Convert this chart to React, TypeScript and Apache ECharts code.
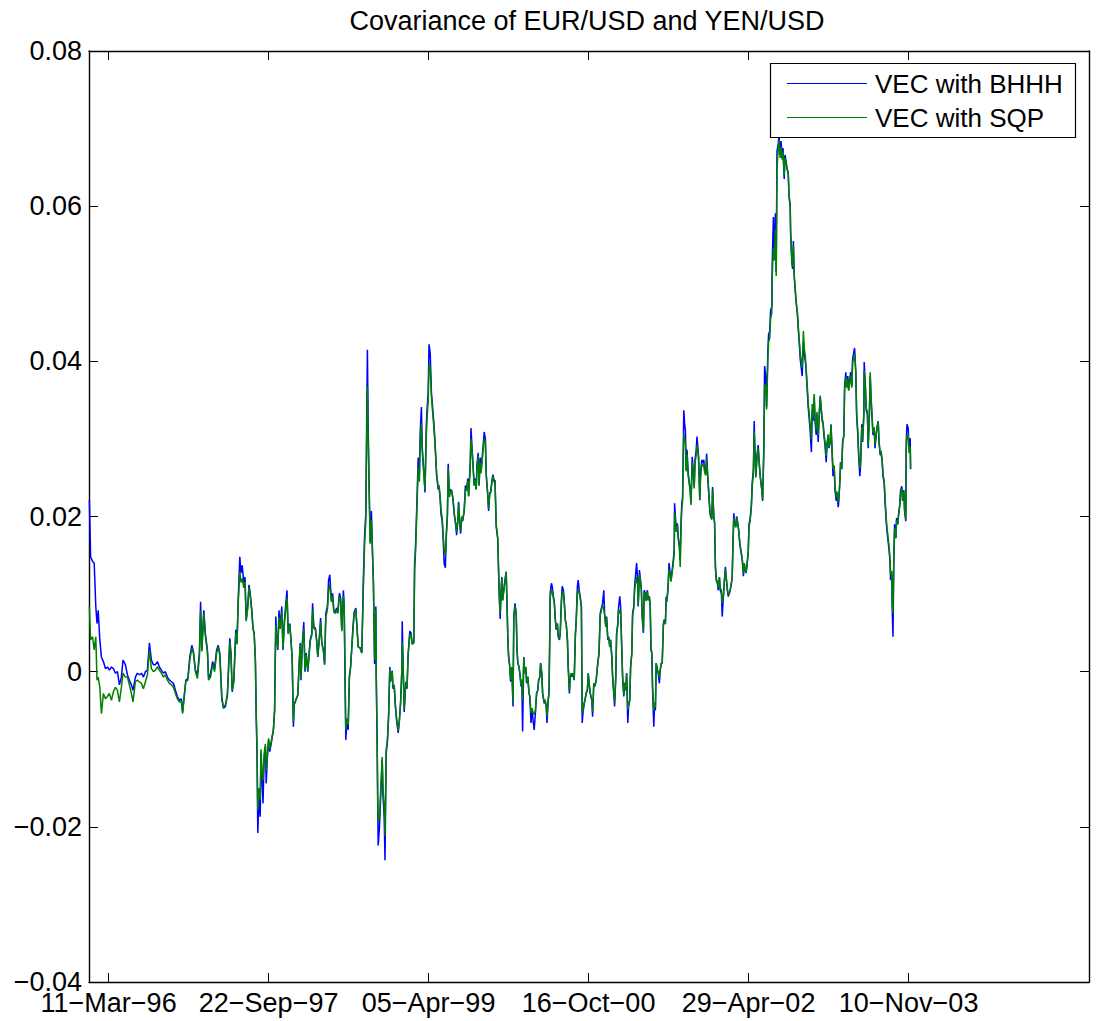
import React, { useEffect, useRef } from "react";
import * as echarts from "echarts";

// Observation index (business days since the start of the sample)
const obs = [
  1, 4, 9, 13, 17, 20, 23, 27, 31, 36, 41, 46, 51, 56, 61, 66, 71, 76, 81, 85, 91, 96, 101, 106, 110, 116, 121, 126, 131, 136, 141, 146, 151, 156, 161, 166, 171, 176, 181, 186, 191, 196, 201, 206, 211, 216, 221, 226, 231, 234, 237, 242, 247, 252, 257, 261, 266, 271, 276, 279, 282, 287, 291, 296, 299, 304, 309, 314, 319, 323, 327, 332, 336, 341, 346,
  352, 355, 358, 362, 367, 370, 373, 377, 380, 383, 387, 390, 393, 397, 400, 403, 407, 410, 413, 416, 418, 420, 422, 425, 428, 430, 432, 435, 438, 441, 443, 446, 449, 452, 457, 461, 464, 467, 469, 472, 475, 478, 482, 485, 488, 492, 495, 498, 502, 505, 508, 511, 513, 517, 522, 525, 528, 530, 533, 537, 540, 543, 547, 550, 553, 557, 559, 562, 566, 569, 572, 576, 579, 582, 586, 589, 592, 596, 599, 602, 606, 609, 612, 616, 619, 622, 626, 629, 632, 636, 638, 640, 642, 645, 648, 651, 654, 657, 660, 663, 667, 670, 673,
  678, 682, 686, 689, 692, 694, 696, 698, 701, 703, 706, 708, 711, 714, 717, 718, 720, 722, 723, 726, 729, 733, 735, 738, 740, 743, 746, 749, 752, 754, 758, 760, 763, 766, 769, 773, 776, 779, 782, 783, 786, 788, 792, 795, 798, 802, 805, 808, 812, 814, 816, 818, 821, 823, 826, 828, 831, 833, 837, 840, 843, 845, 848, 850, 853, 856, 859, 863, 866, 869, 873, 875, 878, 880, 883, 885, 888, 891, 893, 896, 898, 901, 903, 907, 910, 913, 917, 919, 922, 924, 927, 929, 932, 934, 938, 941, 944, 947, 949, 953, 955, 958, 960, 963, 965, 968, 970, 973, 975, 978, 980, 983, 986, 988, 991, 993, 997, 999, 1002, 1004, 1008, 1010, 1013,
  1015, 1018, 1022, 1024, 1026, 1028, 1030, 1032, 1034, 1037, 1040, 1043, 1045, 1047, 1049, 1052, 1054, 1057, 1060, 1062, 1065, 1068, 1070, 1072, 1075, 1078, 1080, 1082, 1084, 1087, 1089, 1092, 1094, 1097, 1100, 1102, 1105, 1108, 1110, 1113, 1116, 1119, 1122, 1124, 1127, 1129, 1132, 1134, 1138, 1140, 1143, 1145, 1148, 1150, 1152, 1153, 1156, 1158, 1161, 1163, 1166, 1168, 1171, 1173, 1176, 1178, 1181, 1183, 1186, 1188, 1191, 1193, 1196, 1198, 1201, 1203, 1206, 1208, 1211, 1213, 1216, 1218, 1221, 1223, 1226, 1228, 1231, 1233, 1235, 1238, 1240, 1243, 1246, 1248, 1251, 1253, 1257, 1259, 1262, 1265, 1268, 1272, 1275, 1278, 1282, 1284, 1287, 1289, 1292, 1294, 1297, 1299, 1302, 1304, 1307, 1309, 1312, 1314, 1317, 1319, 1322, 1324, 1327, 1329, 1332, 1334, 1337, 1339, 1342, 1344, 1347, 1349, 1352, 1354, 1357, 1359, 1362, 1364,
  1369, 1372, 1373, 1376, 1378, 1381, 1383, 1386, 1388, 1391, 1393, 1396, 1398, 1401, 1403, 1405, 1407, 1409, 1412, 1414, 1416, 1418, 1421, 1423, 1426, 1428, 1431, 1433, 1436, 1438, 1441, 1443, 1445, 1448, 1450, 1453, 1455, 1458, 1460, 1463, 1464, 1466, 1468, 1471, 1473, 1476, 1478, 1480, 1482, 1484, 1487, 1489, 1491, 1493, 1495, 1498, 1500, 1503, 1505, 1508, 1510, 1513, 1515, 1518, 1520, 1522, 1524, 1527, 1529, 1532, 1534, 1537, 1539, 1542, 1544, 1547, 1549, 1552, 1554, 1557, 1559, 1562, 1564, 1566, 1568, 1571, 1573, 1576, 1578, 1581, 1583, 1586, 1588, 1591, 1593, 1596, 1598, 1601, 1603, 1606, 1608, 1610, 1612, 1614, 1617, 1619, 1622, 1624, 1627,
  1630, 1633, 1636, 1638, 1642, 1644, 1648, 1650, 1653, 1656, 1658, 1661, 1663, 1664, 1667, 1670, 1673, 1675, 1678, 1682, 1684, 1687, 1689, 1692, 1694, 1697, 1699, 1702, 1704, 1707, 1708, 1711, 1713, 1716, 1718, 1720, 1723, 1725, 1728, 1730, 1733, 1735, 1738, 1740, 1743, 1745, 1748, 1750, 1753, 1754, 1757, 1759, 1761, 1763, 1766, 1768, 1771, 1773, 1776, 1778, 1781, 1783, 1786, 1788, 1791, 1793, 1796, 1798, 1801, 1803, 1806, 1808, 1810, 1813, 1815, 1818, 1820, 1823, 1825, 1828, 1830, 1833, 1835, 1838, 1840, 1843, 1845, 1848, 1850, 1853, 1855, 1858, 1860, 1863, 1865, 1868, 1870, 1873, 1874, 1877, 1879, 1882, 1884, 1887, 1889, 1892, 1894, 1897, 1899, 1902, 1904, 1907, 1909, 1912, 1914, 1917, 1919, 1922, 1924, 1927, 1929, 1932, 1934, 1937, 1938, 1941, 1943, 1946, 1948, 1951, 1953, 1955, 1958, 1960, 1963, 1965, 1968, 1970, 1973, 1975, 1978, 1980, 1983, 1985, 1988, 1990, 1993, 1995, 1998, 2000, 2002, 2004, 2007, 2008, 2010, 2012, 2014, 2017, 2019, 2022, 2024, 2027, 2029, 2032, 2034, 2037, 2039, 2042, 2043, 2045, 2048, 2050, 2053, 2054,
];

// Conditional covariance estimated by BHHH
const bhhh = [
  0.0221, 0.0148, 0.0142, 0.0140, 0.0084, 0.0062, 0.0079, 0.0041, 0.0019, 0.0013, 0.0004, 0.0006, 0.0002, 0.0006, 0.0004, -0.0002, 0.0000, -0.0017, -0.0007, 0.0015, 0.0009, -0.0004, -0.0011, -0.0017, -0.0024, -0.0007, -0.0002, -0.0004, -0.0002, -0.0007, 0.0000, 0.0002, 0.0037, 0.0015, 0.0009, 0.0009, 0.0013, 0.0006, 0.0002, -0.0002, 0.0000, -0.0007, -0.0011, -0.0013, -0.0015, -0.0024, -0.0032, -0.0037, -0.0035, -0.0052, -0.0037, -0.0011, -0.0009, 0.0019, 0.0034, 0.0026, 0.0002, -0.0004, 0.0024, 0.0090, 0.0028, 0.0079, 0.0049, 0.0028, -0.0009, -0.0002, 0.0013, 0.0004, 0.0028, 0.0034, 0.0024, -0.0032, -0.0047, -0.0045, -0.0028,
  0.0043, 0.0024, -0.0026, -0.0011, 0.0054, 0.0037, 0.0092, 0.0148, 0.0127, 0.0137, 0.0114, 0.0122, 0.0067, 0.0086, 0.0112, 0.0101, 0.0079, 0.0056, 0.0049, 0.0013, -0.0058, -0.0105, -0.0208, -0.0161, -0.0187, -0.0105, -0.0131, -0.0170, -0.0110, -0.0097, -0.0144, -0.0110, -0.0088, -0.0103, -0.0088, -0.0075, -0.0050, 0.0071, 0.0045, 0.0028, 0.0079, 0.0058, 0.0084, 0.0028, 0.0062, 0.0088, 0.0105, 0.0049, 0.0062, 0.0041, 0.0015, -0.0071, -0.0043, -0.0037, -0.0030, 0.0006, 0.0037, -0.0011, 0.0034, 0.0064, 0.0000, 0.0024, 0.0000, 0.0021, 0.0041, 0.0049, 0.0088, 0.0058, 0.0056, 0.0041, 0.0019, 0.0045, 0.0069, 0.0037, 0.0028, 0.0009, 0.0075, 0.0084, 0.0118, 0.0125, 0.0092, 0.0101, 0.0079, 0.0077, 0.0082, 0.0077, 0.0101, 0.0095, 0.0054, 0.0105, 0.0084, -0.0002, -0.0088, -0.0062, -0.0075, -0.0007, 0.0006, 0.0032, 0.0058, 0.0077, 0.0082, 0.0058, 0.0032,
  0.0031, 0.0024, 0.0121, 0.0176, 0.0203, 0.0313, 0.0415, 0.0313, 0.0222, 0.0167, 0.0207, 0.0167, 0.0116, 0.0010, 0.0084, -0.0004, -0.0077, -0.0183, -0.0224, -0.0202, -0.0164, -0.0114, -0.0160, -0.0187, -0.0243, -0.0105, -0.0091, -0.0058, 0.0006, -0.0013, 0.0001, -0.0022, -0.0018, -0.0045, -0.0063, -0.0079, -0.0063, -0.0040, 0.0001, 0.0065, -0.0008, -0.0052, -0.0013, -0.0022, 0.0024, 0.0052, 0.0050, 0.0036, 0.0038, 0.0139, 0.0157, 0.0189, 0.0240, 0.0276, 0.0254, 0.0309, 0.0341, 0.0290, 0.0258, 0.0231, 0.0314, 0.0337, 0.0360, 0.0422, 0.0411, 0.0360, 0.0341, 0.0314, 0.0286, 0.0254, 0.0235, 0.0240, 0.0222, 0.0203, 0.0194, 0.0176, 0.0139, 0.0134, 0.0176, 0.0203, 0.0268, 0.0226, 0.0235, 0.0233, 0.0222, 0.0203, 0.0188, 0.0176, 0.0194, 0.0219, 0.0190, 0.0178, 0.0199, 0.0194, 0.0207, 0.0240, 0.0235, 0.0249, 0.0226, 0.0268, 0.0314, 0.0285, 0.0268, 0.0240, 0.0249, 0.0235, 0.0268, 0.0282, 0.0240, 0.0276, 0.0258, 0.0276, 0.0295, 0.0309, 0.0300, 0.0254, 0.0226, 0.0207, 0.0231, 0.0231, 0.0249, 0.0254, 0.0245,
  0.0247, 0.0187, 0.0170, 0.0127, 0.0092, 0.0068, 0.0101, 0.0122, 0.0092, 0.0105, 0.0118, 0.0129, 0.0088, 0.0045, 0.0019, 0.0006, -0.0013, 0.0006, -0.0045, 0.0071, 0.0088, 0.0075, 0.0028, 0.0011, 0.0006, -0.0007, -0.0019, -0.0011, -0.0077, 0.0019, -0.0002, 0.0006, -0.0015, -0.0007, -0.0028, -0.0032, -0.0066, -0.0049, -0.0062, -0.0075, -0.0053, -0.0028, -0.0024, -0.0011, -0.0007, 0.0011, -0.0002, -0.0028, -0.0041, -0.0037, -0.0045, -0.0066, -0.0037, -0.0028, 0.0049, 0.0101, 0.0114, 0.0110, 0.0097, 0.0092, 0.0066, 0.0054, 0.0062, 0.0045, 0.0041, 0.0049, 0.0092, 0.0110, 0.0105, 0.0092, 0.0066, 0.0062, 0.0041, 0.0006, -0.0028, -0.0007, -0.0002, -0.0007, -0.0002, -0.0011, 0.0049, 0.0066, 0.0110, 0.0118, 0.0103, 0.0097, 0.0084, -0.0066, -0.0053, -0.0041, -0.0037, -0.0028, -0.0024, -0.0002, -0.0019, -0.0028, -0.0037, -0.0058, -0.0015, -0.0019, -0.0011, 0.0011, 0.0024, 0.0075, 0.0084, 0.0088, 0.0105, 0.0075, 0.0058, 0.0071, 0.0041, 0.0045, 0.0032, 0.0041, 0.0019, -0.0007, -0.0028, -0.0045, -0.0007, 0.0049, 0.0062, 0.0084, 0.0097, 0.0084, 0.0028, -0.0007, -0.0032, -0.0015, -0.0024, -0.0002, -0.0066, -0.0045, -0.0037, 0.0006, 0.0024, 0.0075, 0.0084, 0.0110,
  0.0140, 0.0114, 0.0084, 0.0131, 0.0122, 0.0105, 0.0071, 0.0050, 0.0105, 0.0101, 0.0092, 0.0105, 0.0092, 0.0097, 0.0084, 0.0028, 0.0024, -0.0024, -0.0071, -0.0041, -0.0050, 0.0011, 0.0002, -0.0002, -0.0015, 0.0002, 0.0011, 0.0011, 0.0062, 0.0067, 0.0062, 0.0097, 0.0092, 0.0114, 0.0140, 0.0127, 0.0118, 0.0131, 0.0140, 0.0157, 0.0217, 0.0200, 0.0183, 0.0191, 0.0174, 0.0162, 0.0144, 0.0191, 0.0217, 0.0225, 0.0337, 0.0320, 0.0311, 0.0260, 0.0286, 0.0256, 0.0247, 0.0234, 0.0217, 0.0277, 0.0264, 0.0238, 0.0273, 0.0286, 0.0303, 0.0290, 0.0277, 0.0221, 0.0256, 0.0273, 0.0269, 0.0273, 0.0260, 0.0256, 0.0281, 0.0251, 0.0234, 0.0208, 0.0200, 0.0196, 0.0238, 0.0200, 0.0191, 0.0135, 0.0118, 0.0114, 0.0105, 0.0122, 0.0105, 0.0101, 0.0071, 0.0097, 0.0114, 0.0135, 0.0122, 0.0105, 0.0097, 0.0101, 0.0105, 0.0114, 0.0122, 0.0169, 0.0204, 0.0191, 0.0187, 0.0200, 0.0191, 0.0183, 0.0165,
  0.0154, 0.0145, 0.0123, 0.0140, 0.0127, 0.0132, 0.0154, 0.0190, 0.0198, 0.0216, 0.0243, 0.0261, 0.0323, 0.0301, 0.0252, 0.0279, 0.0292, 0.0274, 0.0252, 0.0234, 0.0220, 0.0288, 0.0394, 0.0380, 0.0341, 0.0412, 0.0435, 0.0439, 0.0466, 0.0470, 0.0524, 0.0586, 0.0537, 0.0591, 0.0515, 0.0671, 0.0680, 0.0691, 0.0666, 0.0684, 0.0662, 0.0675, 0.0635, 0.0666, 0.0657, 0.0648, 0.0644, 0.0613, 0.0599, 0.0564, 0.0528, 0.0519, 0.0555, 0.0510, 0.0488, 0.0475, 0.0461, 0.0443, 0.0421, 0.0403, 0.0390, 0.0381, 0.0425, 0.0412, 0.0399, 0.0386, 0.0359, 0.0341, 0.0323, 0.0309, 0.0283, 0.0337, 0.0323, 0.0354, 0.0323, 0.0305, 0.0332, 0.0296, 0.0323, 0.0354, 0.0341, 0.0323, 0.0319, 0.0301, 0.0292, 0.0270, 0.0292, 0.0305, 0.0288, 0.0296, 0.0319, 0.0279, 0.0252, 0.0261, 0.0234, 0.0220, 0.0229, 0.0212, 0.0216, 0.0243, 0.0270, 0.0261, 0.0296, 0.0305, 0.0368, 0.0386, 0.0368, 0.0381, 0.0363, 0.0377, 0.0386, 0.0368, 0.0403, 0.0412, 0.0417, 0.0386, 0.0332, 0.0305, 0.0279, 0.0252, 0.0266, 0.0319, 0.0296, 0.0332, 0.0399, 0.0368, 0.0337, 0.0332, 0.0288, 0.0332, 0.0381, 0.0354, 0.0323, 0.0305, 0.0314, 0.0288, 0.0305, 0.0314, 0.0323, 0.0296, 0.0279, 0.0283, 0.0270, 0.0252, 0.0243, 0.0220, 0.0194, 0.0181, 0.0167, 0.0158, 0.0145, 0.0118, 0.0127, 0.0082, 0.0045, 0.0145, 0.0190, 0.0172, 0.0198, 0.0190, 0.0203, 0.0216, 0.0234, 0.0239, 0.0220, 0.0234, 0.0207, 0.0194, 0.0296, 0.0319, 0.0314, 0.0288, 0.0301, 0.0261,
];

// Conditional covariance estimated by SQP
const sqp = [
  0.0084, 0.0041, 0.0045, 0.0028, 0.0045, -0.0011, -0.0007, -0.0020, -0.0054, -0.0028, -0.0035, -0.0032, -0.0028, -0.0037, -0.0026, -0.0020, -0.0024, -0.0039, -0.0020, -0.0002, -0.0007, -0.0007, -0.0017, -0.0028, -0.0039, -0.0013, -0.0011, -0.0013, -0.0015, -0.0022, -0.0013, -0.0004, 0.0028, 0.0004, 0.0000, 0.0002, 0.0006, 0.0002, -0.0002, -0.0007, -0.0004, -0.0011, -0.0015, -0.0017, -0.0020, -0.0028, -0.0035, -0.0039, -0.0039, -0.0054, -0.0037, -0.0013, -0.0011, 0.0015, 0.0030, 0.0024, 0.0000, -0.0009, 0.0019, 0.0079, 0.0026, 0.0075, 0.0045, 0.0026, -0.0011, -0.0007, 0.0009, 0.0000, 0.0024, 0.0032, 0.0021, -0.0037, -0.0045, -0.0043, -0.0032,
  0.0038, 0.0020, -0.0024, -0.0013, 0.0050, 0.0035, 0.0088, 0.0129, 0.0115, 0.0120, 0.0108, 0.0116, 0.0065, 0.0082, 0.0108, 0.0098, 0.0077, 0.0056, 0.0048, 0.0015, -0.0052, -0.0095, -0.0178, -0.0150, -0.0165, -0.0100, -0.0125, -0.0140, -0.0105, -0.0093, -0.0127, -0.0106, -0.0086, -0.0100, -0.0086, -0.0074, -0.0050, 0.0060, 0.0043, 0.0030, 0.0070, 0.0055, 0.0078, 0.0030, 0.0058, 0.0082, 0.0095, 0.0050, 0.0060, 0.0040, 0.0016, -0.0065, -0.0042, -0.0036, -0.0030, 0.0005, 0.0035, -0.0009, 0.0032, 0.0055, 0.0002, 0.0022, 0.0002, 0.0020, 0.0039, 0.0047, 0.0080, 0.0056, 0.0054, 0.0040, 0.0020, 0.0043, 0.0064, 0.0036, 0.0027, 0.0010, 0.0070, 0.0080, 0.0105, 0.0112, 0.0090, 0.0097, 0.0077, 0.0075, 0.0080, 0.0075, 0.0097, 0.0092, 0.0052, 0.0098, 0.0082, 0.0000, -0.0075, -0.0060, -0.0068, -0.0006, 0.0006, 0.0030, 0.0055, 0.0075, 0.0080, 0.0056, 0.0032,
  0.0030, 0.0024, 0.0110, 0.0165, 0.0195, 0.0290, 0.0367, 0.0300, 0.0215, 0.0165, 0.0195, 0.0165, 0.0115, 0.0015, 0.0080, 0.0000, -0.0070, -0.0170, -0.0192, -0.0190, -0.0155, -0.0110, -0.0150, -0.0175, -0.0211, -0.0100, -0.0088, -0.0056, 0.0004, -0.0012, 0.0000, -0.0020, -0.0017, -0.0043, -0.0060, -0.0076, -0.0062, -0.0040, 0.0000, 0.0038, -0.0006, -0.0048, -0.0013, -0.0020, 0.0022, 0.0048, 0.0047, 0.0035, 0.0037, 0.0130, 0.0150, 0.0180, 0.0230, 0.0262, 0.0245, 0.0295, 0.0320, 0.0285, 0.0255, 0.0235, 0.0300, 0.0325, 0.0350, 0.0396, 0.0392, 0.0355, 0.0335, 0.0310, 0.0284, 0.0255, 0.0237, 0.0240, 0.0225, 0.0208, 0.0198, 0.0180, 0.0157, 0.0150, 0.0170, 0.0200, 0.0262, 0.0225, 0.0233, 0.0232, 0.0222, 0.0205, 0.0190, 0.0180, 0.0195, 0.0217, 0.0192, 0.0182, 0.0200, 0.0195, 0.0207, 0.0236, 0.0233, 0.0246, 0.0226, 0.0262, 0.0300, 0.0282, 0.0265, 0.0240, 0.0247, 0.0235, 0.0263, 0.0278, 0.0240, 0.0270, 0.0256, 0.0272, 0.0290, 0.0300, 0.0296, 0.0255, 0.0228, 0.0210, 0.0230, 0.0230, 0.0247, 0.0252, 0.0244,
  0.0245, 0.0190, 0.0172, 0.0130, 0.0095, 0.0075, 0.0100, 0.0120, 0.0092, 0.0104, 0.0118, 0.0128, 0.0088, 0.0046, 0.0020, 0.0007, -0.0011, 0.0006, -0.0040, 0.0068, 0.0085, 0.0074, 0.0029, 0.0012, 0.0006, -0.0005, -0.0017, -0.0010, -0.0037, 0.0018, -0.0002, 0.0006, -0.0014, -0.0006, -0.0027, -0.0031, -0.0053, -0.0047, -0.0053, -0.0055, -0.0050, -0.0028, -0.0024, -0.0011, -0.0007, 0.0010, -0.0002, -0.0027, -0.0040, -0.0036, -0.0043, -0.0058, -0.0036, -0.0028, 0.0045, 0.0095, 0.0105, 0.0104, 0.0094, 0.0090, 0.0066, 0.0055, 0.0062, 0.0046, 0.0042, 0.0049, 0.0088, 0.0104, 0.0101, 0.0090, 0.0066, 0.0062, 0.0042, 0.0008, -0.0024, -0.0006, -0.0002, -0.0006, -0.0002, -0.0010, 0.0047, 0.0064, 0.0104, 0.0105, 0.0100, 0.0095, 0.0083, -0.0053, -0.0050, -0.0040, -0.0036, -0.0027, -0.0023, -0.0002, -0.0018, -0.0027, -0.0036, -0.0052, -0.0015, -0.0018, -0.0010, 0.0011, 0.0023, 0.0072, 0.0082, 0.0086, 0.0080, 0.0074, 0.0058, 0.0069, 0.0042, 0.0045, 0.0033, 0.0041, 0.0020, -0.0005, -0.0026, -0.0040, -0.0006, 0.0047, 0.0060, 0.0080, 0.0075, 0.0080, 0.0029, -0.0006, -0.0030, -0.0014, -0.0023, -0.0002, -0.0049, -0.0042, -0.0036, 0.0006, 0.0023, 0.0072, 0.0082, 0.0105,
  0.0122, 0.0112, 0.0085, 0.0125, 0.0120, 0.0104, 0.0072, 0.0052, 0.0102, 0.0100, 0.0091, 0.0103, 0.0092, 0.0096, 0.0084, 0.0030, 0.0025, -0.0020, -0.0050, -0.0040, -0.0046, 0.0011, 0.0003, -0.0001, -0.0007, 0.0003, 0.0011, 0.0011, 0.0060, 0.0065, 0.0061, 0.0094, 0.0090, 0.0110, 0.0132, 0.0124, 0.0116, 0.0128, 0.0136, 0.0152, 0.0205, 0.0195, 0.0180, 0.0188, 0.0172, 0.0160, 0.0135, 0.0185, 0.0210, 0.0220, 0.0307, 0.0300, 0.0295, 0.0258, 0.0280, 0.0252, 0.0245, 0.0232, 0.0215, 0.0270, 0.0260, 0.0236, 0.0268, 0.0280, 0.0292, 0.0285, 0.0272, 0.0222, 0.0252, 0.0268, 0.0265, 0.0268, 0.0257, 0.0253, 0.0275, 0.0250, 0.0233, 0.0208, 0.0200, 0.0197, 0.0235, 0.0200, 0.0192, 0.0138, 0.0120, 0.0116, 0.0108, 0.0122, 0.0108, 0.0105, 0.0088, 0.0098, 0.0113, 0.0132, 0.0121, 0.0106, 0.0099, 0.0102, 0.0106, 0.0114, 0.0122, 0.0165, 0.0198, 0.0190, 0.0186, 0.0198, 0.0190, 0.0183, 0.0166,
  0.0156, 0.0147, 0.0126, 0.0140, 0.0128, 0.0133, 0.0152, 0.0186, 0.0195, 0.0212, 0.0238, 0.0256, 0.0310, 0.0295, 0.0250, 0.0275, 0.0288, 0.0272, 0.0252, 0.0235, 0.0222, 0.0280, 0.0370, 0.0368, 0.0338, 0.0400, 0.0425, 0.0430, 0.0455, 0.0462, 0.0510, 0.0546, 0.0530, 0.0570, 0.0510, 0.0650, 0.0672, 0.0685, 0.0662, 0.0676, 0.0660, 0.0670, 0.0640, 0.0662, 0.0655, 0.0648, 0.0643, 0.0615, 0.0600, 0.0570, 0.0532, 0.0522, 0.0550, 0.0512, 0.0490, 0.0477, 0.0463, 0.0446, 0.0425, 0.0410, 0.0398, 0.0392, 0.0439, 0.0418, 0.0405, 0.0390, 0.0365, 0.0347, 0.0330, 0.0318, 0.0300, 0.0345, 0.0328, 0.0358, 0.0328, 0.0312, 0.0335, 0.0305, 0.0326, 0.0356, 0.0343, 0.0326, 0.0322, 0.0305, 0.0296, 0.0278, 0.0294, 0.0306, 0.0290, 0.0297, 0.0318, 0.0282, 0.0262, 0.0266, 0.0240, 0.0225, 0.0232, 0.0218, 0.0220, 0.0245, 0.0270, 0.0262, 0.0294, 0.0303, 0.0362, 0.0380, 0.0366, 0.0378, 0.0362, 0.0374, 0.0382, 0.0366, 0.0398, 0.0405, 0.0410, 0.0385, 0.0335, 0.0310, 0.0285, 0.0262, 0.0270, 0.0315, 0.0298, 0.0330, 0.0388, 0.0366, 0.0340, 0.0335, 0.0292, 0.0330, 0.0386, 0.0356, 0.0326, 0.0308, 0.0315, 0.0292, 0.0306, 0.0315, 0.0322, 0.0298, 0.0282, 0.0285, 0.0272, 0.0255, 0.0245, 0.0225, 0.0198, 0.0185, 0.0172, 0.0162, 0.0150, 0.0125, 0.0130, 0.0090, 0.0075, 0.0140, 0.0185, 0.0172, 0.0195, 0.0190, 0.0202, 0.0214, 0.0232, 0.0236, 0.0220, 0.0232, 0.0208, 0.0196, 0.0285, 0.0305, 0.0305, 0.0282, 0.0290, 0.0262,
];

// Date ticks placed every 400 observations
const tickObs = [49, 449, 849, 1249, 1649, 2049];
const tickDates = [
  "11\u2212Mar\u221296",
  "22\u2212Sep\u221297",
  "05\u2212Apr\u221299",
  "16\u2212Oct\u221200",
  "29\u2212Apr\u221202",
  "10\u2212Nov\u221203",
];

const seriesNames = ["VEC with BHHH", "VEC with SQP"];
const seriesColors = ["#0000ff", "#008000"];
const titleText = "Covariance of EUR/USD and YEN/USD";

const FONT = "'Liberation Sans', Arial, Helvetica, sans-serif";

const formatY = (v: number) => {
  const r = Math.round(v * 100) / 100;
  if (r === 0) return "0";
  return (r < 0 ? "\u2212" : "") + Math.abs(r).toFixed(2);
};

const formatX = (v: number) => {
  const i = tickObs.indexOf(Math.round(v));
  return i >= 0 ? tickDates[i] : "";
};

export default function App() {
  const ref = useRef<HTMLDivElement>(null);

  useEffect(() => {
    if (!ref.current) return;
    const chart = echarts.init(ref.current, null, { renderer: "svg" });

    const axisLine = { show: true, onZero: false, lineStyle: { color: "#000", width: 1.4 } };
    const tick = { show: true, inside: true, length: 9, lineStyle: { color: "#000", width: 1 } };

    const xBase = {
      type: "value" as const,
      min: 0,
      max: 2500,
      axisLine,
      splitLine: { show: false },
    };
    const yBase = {
      type: "value" as const,
      min: -0.04,
      max: 0.08,
      interval: 0.02,
      axisLine,
      axisTick: tick,
      splitLine: { show: false },
    };

    const legendTop = 63.5;
    const legendRows = [83.5, 117.5];

    chart.setOption({
      animation: false,
      backgroundColor: "#fff",
      title: {
        text: titleText,
        left: 587,
        top: 7,
        textAlign: "center",
        padding: 0,
        textStyle: { fontFamily: FONT, fontSize: 27, fontWeight: "normal", color: "#000" },
      },
      grid: { left: 89, right: 11, top: 51, bottom: 39, containLabel: false },
      xAxis: [
        {
          ...xBase,
          position: "bottom",
          axisTick: { ...tick, customValues: tickObs },
          axisLabel: {
            show: true,
            customValues: tickObs,
            formatter: formatX,
            margin: 7,
            color: "#000",
            fontFamily: FONT,
            fontSize: 27,
          },
        },
        {
          ...xBase,
          position: "top",
          axisTick: { ...tick, customValues: tickObs },
          axisLabel: { show: false },
        },
      ],
      yAxis: [
        {
          ...yBase,
          position: "left",
          axisLabel: {
            show: true,
            formatter: formatY,
            margin: 7,
            color: "#000",
            fontFamily: FONT,
            fontSize: 27,
            showMinLabel: true,
            showMaxLabel: true,
          },
        },
        {
          ...yBase,
          position: "right",
          axisLabel: { show: false },
        },
      ],
      series: [bhhh, sqp].map((values, s) => ({
        name: seriesNames[s],
        type: "line",
        xAxisIndex: 0,
        yAxisIndex: 0,
        symbol: "none",
        showSymbol: false,
        lineStyle: { color: seriesColors[s], width: 1.5 },
        itemStyle: { color: seriesColors[s] },
        data: obs.map((o, i) => [o, values[i]]),
        z: 2 + s,
      })),
      graphic: [
        {
          type: "rect",
          z: 100,
          shape: { x: 770.5, y: legendTop, width: 305, height: 74 },
          style: { fill: "#fff", stroke: "#000", lineWidth: 1.2 },
        },
        ...seriesNames.flatMap((name, s) => [
          {
            type: "line",
            z: 101,
            shape: { x1: 787, y1: legendRows[s], x2: 867, y2: legendRows[s] },
            style: { stroke: seriesColors[s], lineWidth: 1.2 },
          },
          {
            type: "text",
            z: 101,
            x: 875,
            y: legendRows[s],
            style: {
              text: name,
              fill: "#000",
              font: `26px ${FONT}`,
              align: "left",
              verticalAlign: "middle",
              textAlign: "left",
              textVerticalAlign: "middle",
            },
          },
        ]),
      ],
    });

    return () => chart.dispose();
  }, []);

  return (
    <div
      ref={ref}
      style={{ position: "absolute", left: 0, top: 0, width: 1100, height: 1021, background: "#fff" }}
    />
  );
}
